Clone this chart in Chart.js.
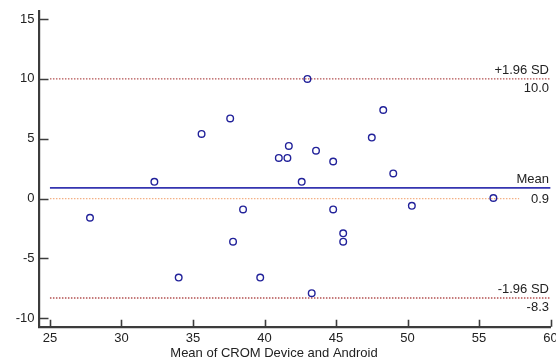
<!DOCTYPE html>
<html>
<head>
<meta charset="utf-8">
<script src="https://cdn.jsdelivr.net/npm/chart.js@4.4.0/dist/chart.umd.min.js"></script>
<style>
  html, body { margin: 0; padding: 0; background: #fff; }
  #wrap { width: 556px; height: 364px; }
</style>
</head>
<body>
<div id="wrap"><canvas id="ba"></canvas></div>
<script>
// Bland-Altman: CROM device vs Android

const meanX = [27.8, 32.3, 34.0, 35.6, 37.6, 37.8, 38.5, 39.7, 41.0, 41.7, 41.6, 42.6,
               43.0, 43.3, 43.6, 44.8, 44.8, 45.5, 45.5, 47.5, 48.3, 49.0, 50.3, 56.0];
const diff  = [-1.6, 1.4, -6.6, 5.4, 6.7, -3.6, -0.9, -6.6, 3.4, 4.4, 3.4, 1.4,
               10.0, -7.9, 4.0, 3.1, -0.9, -2.9, -3.6, 5.1, 7.4, 2.1, -0.6, 0.05];

const xTicks = [25, 30, 35, 40, 45, 50, 55, 60];
const yTicks = [-10, -5, 0, 5, 10, 15];

const meanDiff = 0.9;
const upperLoA = 10.0;
const lowerLoA = -8.3;
const lineFrom = 25, lineTo = 60, zeroTo = 57.8;

const FONT = "'Liberation Sans', Arial, sans-serif";
const AXIS = "#3c3c3c";

const points = meanX.map((x, i) => ({ x: x, y: diff[i] }));
const hline = (y, x1, x2) => [{ x: x1, y: y }, { x: x2, y: y }];

// inner tick marks, line labels, axis title
const extras = {
  id: "extras",
  afterDraw(chart) {
    const { ctx, scales: { x, y }, chartArea: a } = chart;
    ctx.save();
    ctx.strokeStyle = AXIS;
    ctx.lineWidth = 1.6;
    ctx.beginPath();
    yTicks.forEach(v => {
      const py = Math.round(y.getPixelForValue(v)) + 0.5;
      ctx.moveTo(a.left, py); ctx.lineTo(a.left + 9, py);
    });
    xTicks.forEach(v => {
      const px = Math.round(x.getPixelForValue(v)) + 0.5;
      ctx.moveTo(px, a.bottom); ctx.lineTo(px, a.bottom - 7);
    });
    ctx.stroke();

    ctx.fillStyle = "#222";
    ctx.font = "13px " + FONT;
    ctx.textAlign = "right";
    const rx = 549;
    const lab = (val, top, bottom) => {
      const py = y.getPixelForValue(val);
      ctx.textBaseline = "bottom";
      ctx.fillText(top, rx, py - 2);
      ctx.textBaseline = "top";
      ctx.fillText(bottom, rx, py + 3);
    };
    lab(upperLoA, "+1.96 SD", upperLoA.toFixed(1));
    lab(lowerLoA, "-1.96 SD", lowerLoA.toFixed(1));
    const pm = y.getPixelForValue(meanDiff);
    ctx.textBaseline = "bottom";
    ctx.fillText("Mean", rx, pm - 2);
    ctx.textBaseline = "middle";
    ctx.fillText(meanDiff.toFixed(1), rx, y.getPixelForValue(0) + 1);

    ctx.textAlign = "center";
    ctx.textBaseline = "middle";
    ctx.fillText("Mean of CROM Device and Android", 274, 353);
    ctx.restore();
  }
};

new Chart(document.getElementById("ba"), {
  type: "scatter",
  data: {
    datasets: [
      {
        data: points,
        showLine: false,
        pointStyle: "circle",
        pointRadius: 3.3,
        pointBorderWidth: 1.4,
        pointBorderColor: "#22229a",
        pointBackgroundColor: "rgba(255,255,255,0)",
        order: 0
      },
      {
        data: hline(meanDiff, lineFrom, lineTo),
        showLine: true, pointRadius: 0,
        borderColor: "#3535b0", borderWidth: 1.6,
        order: 1
      },
      {
        data: hline(0, lineFrom, zeroTo),
        showLine: true, pointRadius: 0,
        borderColor: "#f3b085", borderWidth: 1.4, borderDash: [1.5, 1.5],
        order: 2
      },
      {
        data: hline(upperLoA, lineFrom, lineTo),
        showLine: true, pointRadius: 0,
        borderColor: "#b35050", borderWidth: 1.4, borderDash: [1.5, 1.5],
        order: 2
      },
      {
        data: hline(lowerLoA, lineFrom, lineTo),
        showLine: true, pointRadius: 0,
        borderColor: "#b35050", borderWidth: 1.4, borderDash: [1.5, 1.5],
        order: 2
      }
    ]
  },
  options: {
    responsive: true,
    maintainAspectRatio: false,
    animation: false,
    events: [],
    layout: { padding: { top: 11, right: 5, left: 0, bottom: 0 } },
    plugins: { legend: { display: false }, tooltip: { enabled: false } },
    scales: {
      x: {
        type: "linear",
        min: 24.27, max: 60,
        afterFit: s => { s.height = 37.3; s.paddingLeft = 0; s.paddingRight = 0; },
        afterBuildTicks: s => { s.ticks = xTicks.map(v => ({ value: v })); },
        grid: { display: false, drawTicks: false },
        border: { display: true, color: AXIS, width: 2.2 },
        ticks: { padding: 4, color: "#222", font: { family: FONT, size: 13 }, maxRotation: 0, autoSkip: false }
      },
      y: {
        type: "linear",
        min: -10.7, max: 15.67,
        afterFit: s => { s.width = 39.5; s.paddingTop = 0; s.paddingBottom = 0; },
        afterBuildTicks: s => { s.ticks = yTicks.map(v => ({ value: v })); },
        grid: { display: false, drawTicks: false },
        border: { display: true, color: AXIS, width: 2.2 },
        ticks: { padding: 5, color: "#222", font: { family: FONT, size: 13 }, autoSkip: false }
      }
    }
  },
  plugins: [extras]
});
</script>
</body>
</html>
